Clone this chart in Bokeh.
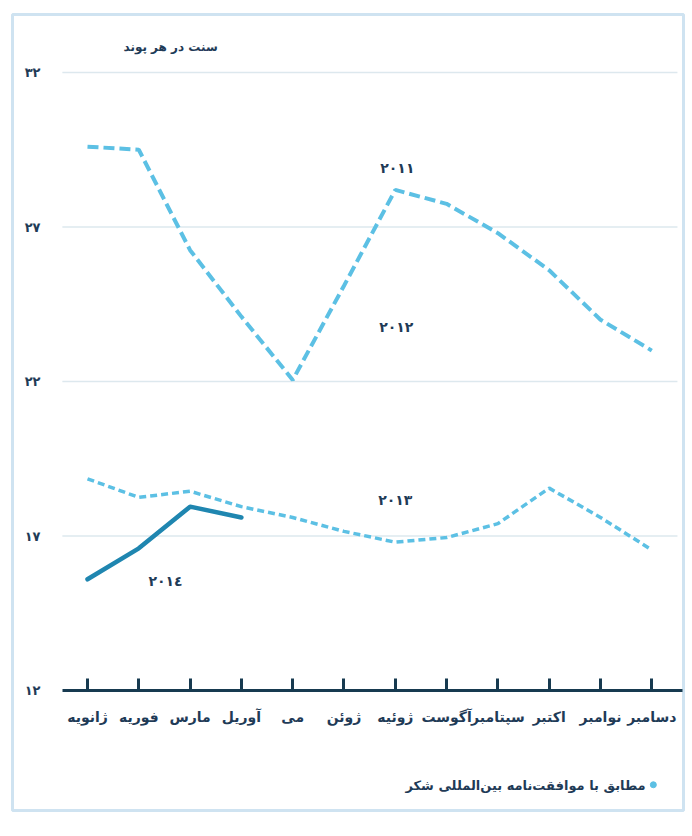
from bokeh.plotting import figure
from bokeh.models import Range1d, FixedTicker, LinearAxis
from bokeh.core.properties import value
from bokeh.embed import file_html
from bokeh.resources import INLINE

# ---------------- data ----------------
months = ["ژانویه", "فوریه", "مارس", "آوریل", "می", "ژوئن",
          "ژوئیه", "آگوست", "سپتامبر", "اکتبر", "نوامبر", "دسامبر"]
month_idx = list(range(len(months)))

price_2011 = [29.6, 29.5, 26.25, 24.1, 22.05, 25.1, 28.2, 27.75, 26.8, 25.6, 24.0, 23.0]
price_2013 = [18.85, 18.25, 18.45, 17.95, 17.6, 17.15, 16.8, 16.95, 17.4, 18.55, 17.6, 16.55]
price_2014 = [15.6, 16.6, 17.95, 17.6]

y_ticks = [12, 17, 22, 27, 32]
y_tick_labels = ["۱۲", "۱۷", "۲۲", "۲۷", "۳۲"]
grid_values = [17, 22, 27, 32]

series_labels = ["۲۰۱۱", "۲۰۱۲", "۲۰۱۳", "۲۰۱٤"]
series_label_x = [6.04, 6.02, 6.0, 1.52]
series_label_y = [28.9, 23.75, 18.15, 15.56]

y_axis_title = "سنت در هر پوند"
footnote = "مطابق با موافقت‌نامه بین‌المللی شکر"

# ---------------- styling ----------------
NAVY = "#1f3b57"
AXIS = "#173a50"
LIGHT = "#5cc0e4"
DARK = "#1f86b0"
FONT = value("DejaVu Sans")

W, H = 690, 830
ml, mr, mt, mb = 12, 7, 14, 20

p = figure(width=W, height=H, output_backend="svg", toolbar_location=None,
           x_range=Range1d(-1.462, 11.618), y_range=Range1d(8.117, 33.877),
           min_border_left=ml, min_border_right=mr, min_border_top=mt,
           min_border_bottom=mb, x_axis_location=None, y_axis_location=None,
           background_fill_color="white", border_fill_color="white")
p.outline_line_color = "#cfe3f1"
p.outline_line_width = 3
p.xgrid.visible = False
p.ygrid.visible = False

# grid lines
p.segment(x0=[-0.49] * len(grid_values), x1=[11.5] * len(grid_values),
          y0=grid_values, y1=grid_values, line_color="#dde8ee", line_width=1.5)

# x axis
xa = LinearAxis(fixed_location=12, bounds=(-0.49, 11.6))
xa.ticker = FixedTicker(ticks=month_idx)
xa.major_label_overrides = {i: m for i, m in zip(month_idx, months)}
xa.axis_line_color = AXIS
xa.axis_line_width = 3
xa.major_tick_line_color = AXIS
xa.major_tick_line_width = 3
xa.major_tick_in = 12
xa.major_tick_out = 0
xa.minor_tick_line_color = None
xa.major_label_standoff = 18
xa.major_label_text_font = "DejaVu Sans"
xa.major_label_text_font_style = "bold"
xa.major_label_text_font_size = "14px"
xa.major_label_text_color = NAVY
p.add_layout(xa, "below")

# y axis
ya = LinearAxis(fixed_location=-0.76)
ya.ticker = FixedTicker(ticks=y_ticks)
ya.major_label_overrides = {t: l for t, l in zip(y_ticks, y_tick_labels)}
ya.axis_line_color = None
ya.major_tick_line_color = None
ya.minor_tick_line_color = None
ya.major_label_standoff = 2
ya.major_label_text_font = "DejaVu Sans"
ya.major_label_text_font_style = "bold"
ya.major_label_text_font_size = "13px"
ya.major_label_text_color = NAVY
p.add_layout(ya, "left")

# lines
p.line(month_idx, price_2011, line_color=LIGHT, line_width=4, line_dash="11 5")
p.line(month_idx, price_2013, line_color=LIGHT, line_width=3.5, line_dash="7 4")
p.line(month_idx[:len(price_2014)], price_2014, line_color=DARK, line_width=4.5,
       line_join="round", line_cap="round")

# series labels
p.text(x=series_label_x, y=series_label_y, text=series_labels,
       text_font=FONT, text_font_style="bold", text_font_size="14px",
       text_color=NAVY, text_align="center", text_baseline="middle")

# y axis title
p.text(x=[1.62], y=[32.81], text=[y_axis_title], text_font=FONT,
       text_font_style="bold", text_font_size="12px", text_color=NAVY,
       text_align="center", text_baseline="middle")

# footnote
p.text(x=[10.88], y=[8.93], text=[footnote], text_font=FONT,
       text_font_style="bold", text_font_size="13px", text_color=NAVY,
       text_align="right", text_baseline="middle")
p.scatter(x=[11.03], y=[8.95], size=6, color=LIGHT)

open("out.html", "w").write(file_html(p, INLINE))
